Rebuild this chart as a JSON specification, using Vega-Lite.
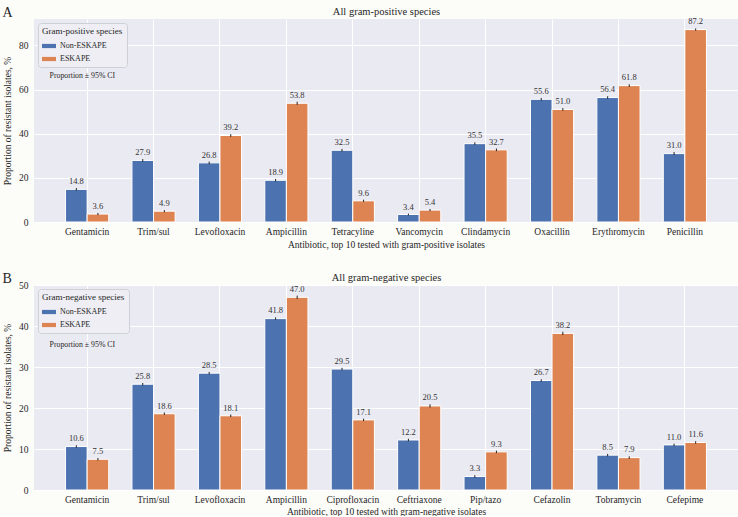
{
  "$schema": "https://vega.github.io/schema/vega-lite/v6.json",
  "background": "#fcfcf9",
  "padding": {"left": 2, "top": 6, "right": 0, "bottom": 0},
  "config": {
    "font": "Liberation Serif, DejaVu Serif, serif",
    "view": {"fill": "#eaeaf2", "stroke": null},
    "text": {"font": "Liberation Serif, DejaVu Serif, serif"},
    "axis": {"labelFont": "Liberation Serif, DejaVu Serif, serif", "titleFont": "Liberation Serif, DejaVu Serif, serif", "labelColor": "#262626", "titleColor": "#262626", "titleFontWeight": "normal", "domain": false, "ticks": false, "gridColor": "#ffffff", "gridWidth": 1, "labelFontSize": 9.5, "titleFontSize": 9.5},
    "legend": {"titleFont": "Liberation Serif, DejaVu Serif, serif", "labelFont": "Liberation Serif, DejaVu Serif, serif", "titleFontWeight": "normal", "titleFontSize": 9, "labelFontSize": 8, "symbolType": "M-1,-0.3H1V0.3H-1Z", "symbolSize": 196, "fillColor": "#eeeef4", "strokeColor": "#cfcfd6", "padding": 4, "cornerRadius": 3, "rowPadding": 2, "titlePadding": 3, "symbolStrokeWidth": 0, "labelColor": "#262626", "titleColor": "#262626", "labelOffset": 4},
    "title": {"font": "Liberation Serif, DejaVu Serif, serif", "fontWeight": "normal", "color": "#262626"},
    "concat": {"spacing": 23}
  },
  "datasets": {
    "gp": [
      {"antibiotic": "Gentamicin", "group": "Non-ESKAPE", "value": 14.8, "lo": 14.2, "hi": 15.4},
      {"antibiotic": "Gentamicin", "group": "ESKAPE", "value": 3.6, "lo": 3.1, "hi": 4.1},
      {"antibiotic": "Trim/sul", "group": "Non-ESKAPE", "value": 27.9, "lo": 27.3, "hi": 28.5},
      {"antibiotic": "Trim/sul", "group": "ESKAPE", "value": 4.9, "lo": 4.4, "hi": 5.4},
      {"antibiotic": "Levofloxacin", "group": "Non-ESKAPE", "value": 26.8, "lo": 26.2, "hi": 27.4},
      {"antibiotic": "Levofloxacin", "group": "ESKAPE", "value": 39.2, "lo": 38.6, "hi": 39.8},
      {"antibiotic": "Ampicillin", "group": "Non-ESKAPE", "value": 18.9, "lo": 18.3, "hi": 19.5},
      {"antibiotic": "Ampicillin", "group": "ESKAPE", "value": 53.8, "lo": 53.1, "hi": 54.5},
      {"antibiotic": "Tetracyline", "group": "Non-ESKAPE", "value": 32.5, "lo": 31.9, "hi": 33.1},
      {"antibiotic": "Tetracyline", "group": "ESKAPE", "value": 9.6, "lo": 9.1, "hi": 10.1},
      {"antibiotic": "Vancomycin", "group": "Non-ESKAPE", "value": 3.4, "lo": 3.0, "hi": 3.8},
      {"antibiotic": "Vancomycin", "group": "ESKAPE", "value": 5.4, "lo": 4.9, "hi": 5.9},
      {"antibiotic": "Clindamycin", "group": "Non-ESKAPE", "value": 35.5, "lo": 34.9, "hi": 36.1},
      {"antibiotic": "Clindamycin", "group": "ESKAPE", "value": 32.7, "lo": 32.1, "hi": 33.3},
      {"antibiotic": "Oxacillin", "group": "Non-ESKAPE", "value": 55.6, "lo": 55.0, "hi": 56.2},
      {"antibiotic": "Oxacillin", "group": "ESKAPE", "value": 51.0, "lo": 50.4, "hi": 51.6},
      {"antibiotic": "Erythromycin", "group": "Non-ESKAPE", "value": 56.4, "lo": 55.8, "hi": 57.0},
      {"antibiotic": "Erythromycin", "group": "ESKAPE", "value": 61.8, "lo": 61.2, "hi": 62.4},
      {"antibiotic": "Penicillin", "group": "Non-ESKAPE", "value": 31.0, "lo": 30.3, "hi": 31.7},
      {"antibiotic": "Penicillin", "group": "ESKAPE", "value": 87.2, "lo": 86.7, "hi": 87.7}
    ],
    "gn": [
      {"antibiotic": "Gentamicin", "group": "Non-ESKAPE", "value": 10.6, "lo": 10.3, "hi": 10.9},
      {"antibiotic": "Gentamicin", "group": "ESKAPE", "value": 7.5, "lo": 7.2, "hi": 7.8},
      {"antibiotic": "Trim/sul", "group": "Non-ESKAPE", "value": 25.8, "lo": 25.5, "hi": 26.1},
      {"antibiotic": "Trim/sul", "group": "ESKAPE", "value": 18.6, "lo": 18.3, "hi": 18.9},
      {"antibiotic": "Levofloxacin", "group": "Non-ESKAPE", "value": 28.5, "lo": 28.2, "hi": 28.8},
      {"antibiotic": "Levofloxacin", "group": "ESKAPE", "value": 18.1, "lo": 17.8, "hi": 18.4},
      {"antibiotic": "Ampicillin", "group": "Non-ESKAPE", "value": 41.8, "lo": 41.5, "hi": 42.1},
      {"antibiotic": "Ampicillin", "group": "ESKAPE", "value": 47.0, "lo": 46.6, "hi": 47.4},
      {"antibiotic": "Ciprofloxacin", "group": "Non-ESKAPE", "value": 29.5, "lo": 29.2, "hi": 29.8},
      {"antibiotic": "Ciprofloxacin", "group": "ESKAPE", "value": 17.1, "lo": 16.8, "hi": 17.4},
      {"antibiotic": "Ceftriaxone", "group": "Non-ESKAPE", "value": 12.2, "lo": 11.9, "hi": 12.5},
      {"antibiotic": "Ceftriaxone", "group": "ESKAPE", "value": 20.5, "lo": 20.1, "hi": 20.9},
      {"antibiotic": "Pip/tazo", "group": "Non-ESKAPE", "value": 3.3, "lo": 3.0, "hi": 3.6},
      {"antibiotic": "Pip/tazo", "group": "ESKAPE", "value": 9.3, "lo": 9.0, "hi": 9.6},
      {"antibiotic": "Cefazolin", "group": "Non-ESKAPE", "value": 26.7, "lo": 26.4, "hi": 27.0},
      {"antibiotic": "Cefazolin", "group": "ESKAPE", "value": 38.2, "lo": 37.8, "hi": 38.6},
      {"antibiotic": "Tobramycin", "group": "Non-ESKAPE", "value": 8.5, "lo": 8.2, "hi": 8.8},
      {"antibiotic": "Tobramycin", "group": "ESKAPE", "value": 7.9, "lo": 7.6, "hi": 8.2},
      {"antibiotic": "Cefepime", "group": "Non-ESKAPE", "value": 11.0, "lo": 10.7, "hi": 11.3},
      {"antibiotic": "Cefepime", "group": "ESKAPE", "value": 11.6, "lo": 11.3, "hi": 11.9}
    ]
  },
  "resolve": {"scale": {"color": "independent"}, "legend": {"color": "independent"}},
  "vconcat": [
    {
      "width": 704, "height": 203,
      "title": {"text": "A", "anchor": "start", "frame": "bounds", "fontSize": 14, "offset": -14},
      "data": {"name": "gp"},
      "resolve": {"axis": {"x": "independent"}},
      "layer": [
        {
          "mark": {"type": "bar", "stroke": "#ffffff", "strokeWidth": 1},
          "encoding": {
            "x": {"field": "antibiotic", "type": "nominal", "sort": null, "scale": {"paddingInner": 0.35, "paddingOuter": 0.475}, "axis": {"title": "Antibiotic, top 10 tested with gram-positive isolates", "labelAngle": 0, "grid": true, "bandPosition": 0.5, "labelPadding": 4, "titlePadding": 4}},
            "xOffset": {"field": "group", "type": "nominal", "sort": ["Non-ESKAPE", "ESKAPE"], "scale": {"paddingInner": 0, "paddingOuter": 0}},
            "y": {"field": "value", "type": "quantitative", "scale": {"domain": [0, 92], "nice": false}, "axis": {"title": "Proportion of resistant isolates, %", "values": [0, 20, 40, 60, 80], "grid": true, "labelPadding": 6, "titlePadding": 6}},
            "color": {"field": "group", "type": "nominal", "scale": {"domain": ["Non-ESKAPE", "ESKAPE"], "range": ["#4c72b0", "#dd8452"]}, "legend": {"title": "Gram-positive species", "orient": "top-left", "offset": 4}}
          }
        },
        {
          "mark": {"type": "rule", "color": "#222222", "strokeWidth": 1},
          "encoding": {
            "x": {"field": "antibiotic", "type": "nominal", "sort": null, "axis": null},
            "xOffset": {"field": "group", "type": "nominal", "sort": ["Non-ESKAPE", "ESKAPE"]},
            "y": {"field": "lo", "type": "quantitative"},
            "y2": {"field": "hi"}
          }
        },
        {
          "mark": {"type": "text", "baseline": "bottom", "dy": -2, "fontSize": 8.5, "color": "#333333"},
          "encoding": {
            "x": {"field": "antibiotic", "type": "nominal", "sort": null, "axis": null},
            "xOffset": {"field": "group", "type": "nominal", "sort": ["Non-ESKAPE", "ESKAPE"]},
            "y": {"field": "hi", "type": "quantitative"},
            "text": {"field": "value", "type": "quantitative", "format": ".1f"}
          }
        },
        {
          "data": {"values": [{"t": "Proportion ± 95% CI"}]},
          "mark": {"type": "text", "align": "left", "baseline": "middle", "fontSize": 7.8, "dx": -16, "color": "#262626"},
          "encoding": {
            "x": {"datum": "Gentamicin", "bandPosition": 0, "axis": null},
            "y": {"datum": 66},
            "text": {"field": "t"}
          }
        },
        {
          "mark": {"type": "tick", "opacity": 0},
          "encoding": {
            "x": {"field": "antibiotic", "type": "nominal", "sort": null, "axis": {"orient": "top", "title": "All gram-positive species", "labels": false, "grid": false, "titleFontSize": 10.5, "titlePadding": 3}}
          }
        }
      ]
    },
    {
      "width": 704, "height": 205,
      "title": {"text": "B", "anchor": "start", "frame": "bounds", "fontSize": 14, "offset": -14},
      "data": {"name": "gn"},
      "resolve": {"axis": {"x": "independent"}},
      "layer": [
        {
          "mark": {"type": "bar", "stroke": "#ffffff", "strokeWidth": 1},
          "encoding": {
            "x": {"field": "antibiotic", "type": "nominal", "sort": null, "scale": {"paddingInner": 0.35, "paddingOuter": 0.475}, "axis": {"title": "Antibiotic, top 10 tested with gram-negative isolates", "labelAngle": 0, "grid": true, "bandPosition": 0.5, "labelPadding": 4, "titlePadding": 3}},
            "xOffset": {"field": "group", "type": "nominal", "sort": ["Non-ESKAPE", "ESKAPE"], "scale": {"paddingInner": 0, "paddingOuter": 0}},
            "y": {"field": "value", "type": "quantitative", "scale": {"domain": [0, 50], "nice": false}, "axis": {"title": "Proportion of resistant isolates, %", "values": [0, 10, 20, 30, 40, 50], "grid": true, "labelPadding": 6, "titlePadding": 6}},
            "color": {"field": "group", "type": "nominal", "scale": {"domain": ["Non-ESKAPE", "ESKAPE"], "range": ["#4c72b0", "#dd8452"]}, "legend": {"title": "Gram-negative species", "orient": "top-left", "offset": 4}}
          }
        },
        {
          "mark": {"type": "rule", "color": "#222222", "strokeWidth": 1},
          "encoding": {
            "x": {"field": "antibiotic", "type": "nominal", "sort": null, "axis": null},
            "xOffset": {"field": "group", "type": "nominal", "sort": ["Non-ESKAPE", "ESKAPE"]},
            "y": {"field": "lo", "type": "quantitative"},
            "y2": {"field": "hi"}
          }
        },
        {
          "mark": {"type": "text", "baseline": "bottom", "dy": -2, "fontSize": 8.5, "color": "#333333"},
          "encoding": {
            "x": {"field": "antibiotic", "type": "nominal", "sort": null, "axis": null},
            "xOffset": {"field": "group", "type": "nominal", "sort": ["Non-ESKAPE", "ESKAPE"]},
            "y": {"field": "hi", "type": "quantitative"},
            "text": {"field": "value", "type": "quantitative", "format": ".1f"}
          }
        },
        {
          "data": {"values": [{"t": "Proportion ± 95% CI"}]},
          "mark": {"type": "text", "align": "left", "baseline": "middle", "fontSize": 7.8, "dx": -16, "color": "#262626"},
          "encoding": {
            "x": {"datum": "Gentamicin", "bandPosition": 0, "axis": null},
            "y": {"datum": 35.4},
            "text": {"field": "t"}
          }
        },
        {
          "mark": {"type": "tick", "opacity": 0},
          "encoding": {
            "x": {"field": "antibiotic", "type": "nominal", "sort": null, "axis": {"orient": "top", "title": "All gram-negative species", "labels": false, "grid": false, "titleFontSize": 10.5, "titlePadding": 3}}
          }
        }
      ]
    }
  ]
}
